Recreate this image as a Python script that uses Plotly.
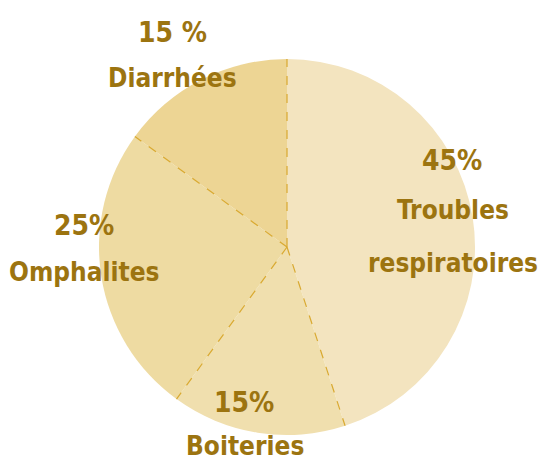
import math
import plotly.graph_objects as go

labels = ["Troubles respiratoires", "Boiteries", "Omphalites", "Diarrhées"]
values = [45, 15, 25, 15]
pct_text = ["45%", "15%", "25%", "15 %"]
name_lines = [["Troubles", "respiratoires"], ["Boiteries"], ["Omphalites"], ["Diarrhées"]]
colors = ["#F3E4BF", "#F0DFAE", "#EEDBA2", "#EDD594"]

W, H = 543, 464
cx, cy, r = 287, 247, 188  # pixel centre & radius of the pie

dom_x = [(cx - r) / W, (cx + r) / W]
dom_y = [(H - cy - r) / H, (H - cy + r) / H]

fig = go.Figure(go.Pie(
    labels=labels, values=values, sort=False, direction="clockwise",
    rotation=0, marker=dict(colors=colors, line=dict(width=0)),
    textinfo="none", hoverinfo="label+percent", showlegend=False,
    domain=dict(x=dom_x, y=dom_y),
))

# dashed separators derived from cumulative values
shapes = []
total = sum(values)
cum = 0
for v in values:
    ang = 2 * math.pi * cum / total
    x1 = cx + r * math.sin(ang)
    y1 = cy - r * math.cos(ang)
    shapes.append(dict(type="line", xref="paper", yref="paper",
                       x0=cx / W, y0=1 - cy / H, x1=x1 / W, y1=1 - y1 / H,
                       line=dict(color="#D9A930", width=1.2, dash="dash")))
    cum += v

font_family = "DejaVu Sans Condensed, DejaVu Sans, sans-serif"
tc = "#9C7410"
fs = 26
# label positions (pixel): percent line, then each name line
pos = [
    ((452, 160), [(453, 210), (453, 263)]),
    ((244, 402), [(245, 446)]),
    ((84, 225), [(84, 272)]),
    ((172, 33), [(172, 78)]),
]
annotations = []
for i in range(len(labels)):
    (px, py), nlist = pos[i]
    annotations.append(dict(x=px / W, y=1 - py / H, xref="paper", yref="paper",
                            text="<b>" + pct_text[i] + "</b>", showarrow=False,
                            font=dict(family=font_family, size=fs + 2, color=tc),
                            xanchor="center", yanchor="middle"))
    for line, (nx, ny) in zip(name_lines[i], nlist):
        annotations.append(dict(x=nx / W, y=1 - ny / H, xref="paper", yref="paper",
                                text="<b>" + line + "</b>", showarrow=False,
                                font=dict(family=font_family, size=fs, color=tc),
                                xanchor="center", yanchor="middle"))

fig.update_layout(
    width=W, height=H, margin=dict(l=0, r=0, t=0, b=0),
    paper_bgcolor="white", plot_bgcolor="white",
    shapes=shapes, annotations=annotations,
)
fig.write_html("out.html")
